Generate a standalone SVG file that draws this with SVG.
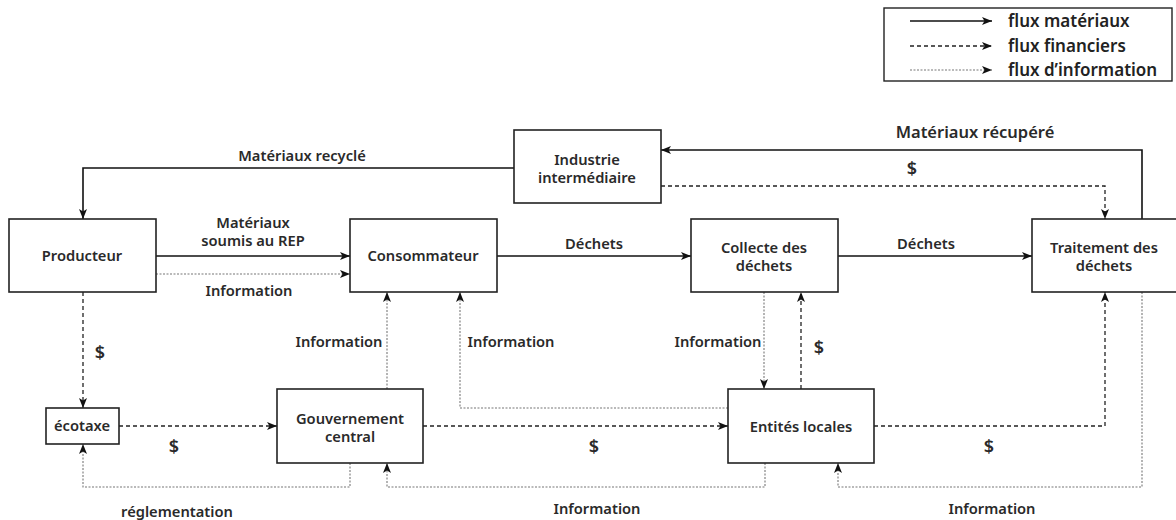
<svg xmlns="http://www.w3.org/2000/svg" width="1176" height="520" viewBox="0 0 1176 520">
<defs>
<marker id="ah" markerUnits="userSpaceOnUse" markerWidth="10" markerHeight="10" viewBox="0 0 10 10" refX="10" refY="5" orient="auto">
<path d="M0,1 L10,5 L0,9 L2.5,5 Z" fill="#111"/>
</marker>
<style>
.box{fill:#fff;stroke:#222;stroke-width:1.6}
.t{font-family:"Noto Sans","Open Sans",sans-serif;font-weight:600;font-size:14.7px;fill:#2a2a2a;text-anchor:middle}
.big{font-size:16.5px}
.dl{font-family:"Noto Sans","Open Sans",sans-serif;font-weight:600;font-size:18px;fill:#2a2a2a;text-anchor:middle}
.lg{font-family:"Noto Sans","Open Sans",sans-serif;font-weight:600;font-size:17px;fill:#222}
.s{fill:none;stroke:#111;stroke-width:1.6}
.d{fill:none;stroke:#222;stroke-width:1.3;stroke-dasharray:4 3}
.o{fill:none;stroke:#777;stroke-width:1.1;stroke-dasharray:2 1.5}
</style>
</defs>
<rect width="1176" height="520" fill="#fff"/>

<g id="legend">
<rect x="884" y="8" width="288" height="73" fill="#fff" stroke="#222" stroke-width="1.4"/>
<line class="s" x1="910" y1="21" x2="992" y2="21" marker-end="url(#ah)"/>
<line class="d" x1="910" y1="46" x2="992" y2="46" marker-end="url(#ah)"/>
<line class="o" x1="910" y1="70" x2="992" y2="70" marker-end="url(#ah)"/>
<text class="lg" x="1008" y="27">flux matériaux</text>
<text class="lg" x="1008" y="52">flux financiers</text>
<text class="lg" x="1008" y="76">flux d’information</text>
</g>

<g id="connectors">
<polyline class="s" points="514,168 83,168 83,219" marker-end="url(#ah)"/>
<polyline class="s" points="1142,219 1142,150 661,150" marker-end="url(#ah)"/>
<polyline class="d" points="661,186 1105,186 1105,219" marker-end="url(#ah)"/>
<line class="s" x1="156" y1="256" x2="350" y2="256" marker-end="url(#ah)"/>
<line class="o" x1="156" y1="274" x2="350" y2="274" marker-end="url(#ah)"/>
<line class="s" x1="497" y1="256" x2="691" y2="256" marker-end="url(#ah)"/>
<line class="s" x1="838" y1="256" x2="1032" y2="256" marker-end="url(#ah)"/>
<line class="d" x1="83" y1="292" x2="83" y2="408" marker-end="url(#ah)"/>
<line class="d" x1="119" y1="426" x2="277" y2="426" marker-end="url(#ah)"/>
<polyline class="o" points="350,463 350,487 83,487 83,444" marker-end="url(#ah)"/>
<line class="o" x1="387" y1="389" x2="387" y2="292" marker-end="url(#ah)"/>
<polyline class="o" points="728,408 460,408 460,292" marker-end="url(#ah)"/>
<line class="d" x1="423" y1="426" x2="728" y2="426" marker-end="url(#ah)"/>
<line class="o" x1="764" y1="292" x2="764" y2="389" marker-end="url(#ah)"/>
<line class="d" x1="801" y1="389" x2="801" y2="292" marker-end="url(#ah)"/>
<polyline class="d" points="874,426 1105,426 1105,292" marker-end="url(#ah)"/>
<polyline class="o" points="1142,292 1142,487 838,487 838,463" marker-end="url(#ah)"/>
<polyline class="o" points="765,463 765,487 387,487 387,463" marker-end="url(#ah)"/>

<text class="t" x="302" y="161">Matériaux recyclé</text>
<text class="t big" x="975" y="138">Matériaux récupéré</text>
<text class="dl" x="912" y="175">$</text>
<text class="t" x="253" y="228">Matériaux</text>
<text class="t" x="253" y="246">soumis au REP</text>
<text class="t" x="249" y="296">Information</text>
<text class="t" x="594" y="249">Déchets</text>
<text class="t" x="926" y="249">Déchets</text>
<text class="dl" x="100" y="359">$</text>
<text class="dl" x="174" y="453">$</text>
<text class="t" x="177" y="517">réglementation</text>
<text class="t" x="339" y="347">Information</text>
<text class="t" x="511" y="347">Information</text>
<text class="dl" x="594" y="453">$</text>
<text class="t" x="718" y="347">Information</text>
<text class="dl" x="819" y="354">$</text>
<text class="dl" x="989" y="453">$</text>
<text class="t" x="992" y="514">Information</text>
<text class="t" x="597" y="514">Information</text>
</g>

<g id="producteur"><rect class="box" x="9" y="219" width="147" height="73"/><text class="t" x="82" y="261">Producteur</text></g>
<g id="consommateur"><rect class="box" x="350" y="219" width="147" height="73"/><text class="t" x="423" y="261">Consommateur</text></g>
<g id="industrie"><rect class="box" x="514" y="130" width="147" height="73"/><text class="t" x="587" y="165">Industrie</text><text class="t" x="587" y="183">intermédiaire</text></g>
<g id="collecte"><rect class="box" x="691" y="219" width="147" height="73"/><text class="t" x="764" y="253">Collecte des</text><text class="t" x="764" y="271">déchets</text></g>
<g id="traitement"><rect class="box" x="1032" y="219" width="160" height="73"/><text class="t" x="1104" y="253">Traitement des</text><text class="t" x="1104" y="271">déchets</text></g>
<g id="ecotaxe"><rect class="box" x="46" y="408" width="73" height="36"/><text class="t" x="82" y="431">écotaxe</text></g>
<g id="gouvernement"><rect class="box" x="277" y="389" width="146" height="74"/><text class="t" x="350" y="424">Gouvernement</text><text class="t" x="350" y="442">central</text></g>
<g id="entites"><rect class="box" x="728" y="389" width="146" height="74"/><text class="t" x="801" y="432">Entités locales</text></g>
</svg>
